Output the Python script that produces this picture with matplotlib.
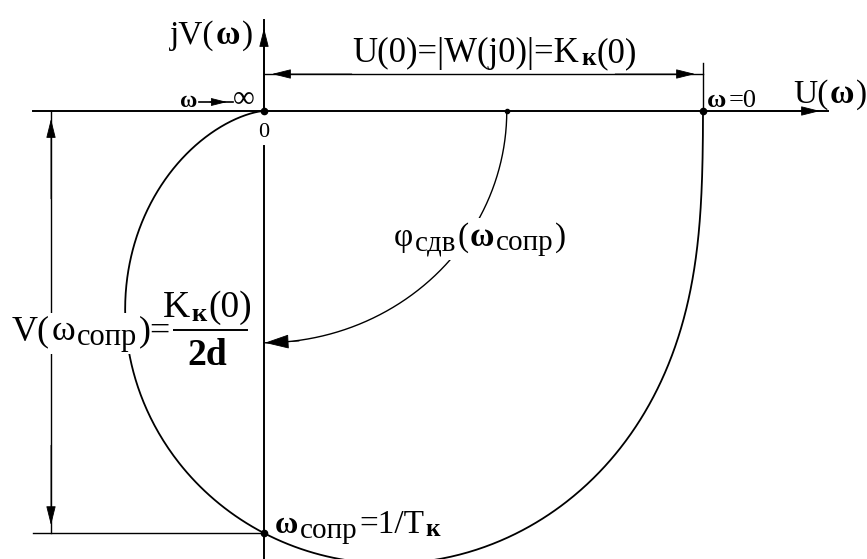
import numpy as np
import matplotlib
matplotlib.use("Agg")
import matplotlib.pyplot as plt
from matplotlib.patches import Rectangle
from matplotlib.transforms import Bbox

# параметры колебательного звена W(jw) = Kк / (1 - (w*Tк)^2 + j*2*d*w*Tк)
K_k = 1.0        # Kк(0)
d = 0.52         # коэффициент демпфирования
T_k = 1.0        # постоянная времени Tк
w_max = 60.0     # верхняя частота для годографа

# полуоси дуги угла сдвига фазы
phi_rx = 0.553
phi_ry = 0.528

plt.rcParams['font.family'] = ['Liberation Serif', 'DejaVu Serif']

S = 439.0            # пикселей на единицу
X0, Y0 = 264, 111    # начало координат на картинке


def px(x, y):
    # перевод из пикселей в координаты осей
    return (x - X0) / S, (Y0 - y) / S


def head(tip, tail, ms=12, hl=1.0, hw=0.25):
    # закрашенная стрелка, острие в tip
    ax.annotate('', xy=tip, xytext=tail,
                arrowprops=dict(arrowstyle=f'-|>,head_length={hl},head_width={hw}',
                                fc='k', ec='k', lw=0.6, mutation_scale=ms,
                                shrinkA=0, shrinkB=0))


def row(x, y, parts, ha='left', back=None, gap=1.5):
    # строка из кусков: (текст, кегль, начертание, сдвиг вниз в пикселях)
    objs = []
    for s, fs, fw, dy in parts:
        t = ax.text(0, 0, s, fontsize=fs, fontweight=fw, ha='left', va='baseline',
                    color='k', zorder=6)
        objs.append((t, dy))
    widths = [t.get_window_extent(renderer).width / S for t, _ in objs]
    g = gap / S
    total = sum(widths) + g * (len(widths) - 1)
    x0 = {'left': x, 'center': x - total / 2, 'right': x - total}[ha]
    for (t, dy), wd in zip(objs, widths):
        t.set_position((x0, y - dy / S))
        x0 += wd + g
    if back is not None:
        bb = Bbox.union([t.get_window_extent(renderer) for t, _ in objs])
        (ax0, ay0), (ax1, ay1) = ax.transData.inverted().transform(bb.get_points())
        p = back / S
        ax.add_patch(Rectangle((ax0 - p, ay0 - p), ax1 - ax0 + 2 * p, ay1 - ay0 + 2 * p,
                               fc='white', ec='none', zorder=5))


# годограф
w = np.concatenate([[0.0], np.geomspace(1e-3, w_max, 3000)])
W = K_k / (1 - (w * T_k) ** 2 + 2j * d * w * T_k)
U, V = W.real, W.imag
V_res = -K_k / (2 * d)          # V(w_сопр), w_сопр = 1/Tк

fig = plt.figure(figsize=(8.67, 5.59), dpi=100)
ax = fig.add_axes([0, 0, 1, 1])
ax.set_xlim(px(0, 0)[0], px(867, 0)[0])
ax.set_ylim(px(0, 559)[1], px(0, 0)[1])
ax.axis('off')
renderer = fig.canvas.get_renderer()

lw = 1.4
off = 8 / S     # отступ острия стрелок от выносных линий

# оси
x_left, x_right = px(33, 0)[0], px(828, 0)[0]
y_top = px(0, 20)[1]
ax.plot([x_left, x_right], [0, 0], 'k', lw=lw)
ax.plot([0, 0], [y_top, 0], 'k', lw=lw)
ax.plot([0, 0], [px(0, 146)[1], -1.1], 'k', lw=lw)
head((x_right - off, 0), (x_right - 0.2, 0))
head((0, y_top - off), (0, y_top - 0.2))

# размер U(0) = Kк(0)
y_dim = px(0, 74)[1]
ax.plot([K_k, K_k], [0, px(0, 63)[1]], 'k', lw=1.0)
ax.plot([0, K_k], [y_dim, y_dim], 'k', lw=1.0)
head((off, y_dim), (0.2, y_dim))
head((K_k - off, y_dim), (K_k - 0.2, y_dim))

# размер V(w_сопр)
x_dim = px(51, 0)[0]
ax.plot([x_left, 0], [V_res, V_res], 'k', lw=1.0)
ax.plot([x_dim, x_dim], [0, V_res], 'k', lw=1.0)
head((x_dim, -off), (x_dim, -0.2))
head((x_dim, V_res + off), (x_dim, V_res + 0.2))

# кривая
ax.plot(U, V, 'k', lw=1.3)

# дуга угла сдвига
t = np.linspace(0, np.pi / 2, 200)
ax.plot(phi_rx * np.cos(t), -phi_ry * np.sin(t), 'k', lw=1.0)
head((0.002, -phi_ry), (0.08, -phi_ry + 0.004), ms=13, hl=1.2, hw=0.35)

# точки
ax.plot([0, K_k, 0], [0, 0, V_res], 'ko', ms=4.5, zorder=4)
ax.plot([phi_rx], [0], 'ko', ms=3, zorder=4)

R, B = 'normal', 'bold'

row(*px(253, 44), [('jV(', 24, R, 0), ('ω', 24, B, 0), (')', 24, R, 0)], ha='right')
row(*px(793, 103), [('U(', 24, R, 0), ('ω', 24, B, 0), (')', 24, R, 0)])
row(*px(495, 62), [('U(0)=|W(j0)|=K', 25, R, 0), ('к', 18, B, 3), ('(0)', 25, R, 0)], ha='center')

row(*px(707, 107), [('ω', 19, B, 0), ('=0', 19, R, 0)], gap=2)

# w -> бесконечность
row(*px(180, 107), [('ω', 17, B, 0)])
ax.plot([px(199, 0)[0], px(233, 0)[0]], [px(0, 102)[1]] * 2, 'k', lw=1.2)
head(px(227, 102), px(210, 102), ms=10)
row(*px(233, 107), [('∞', 22, R, 0)])

row(*px(264, 137), [('0', 16, R, 0)], ha='center')

row(*px(480, 246), [('φ', 24, R, 0), ('сдв', 21, R, 4), ('(', 24, R, 0), ('ω', 24, B, 0),
                    ('сопр', 21, R, 4), (')', 24, R, 0)], ha='center', back=4)

row(*px(12, 340), [('V(', 26, R, 0), ('ω', 26, R, 0), ('сопр', 22, R, 5), (')=', 26, R, 0)], back=2)
row(*px(207, 317), [('K', 27, R, 0), ('к', 19, B, 4), ('(0)', 27, R, 0)], ha='center')
ax.plot([px(168, 0)[0], px(247, 0)[0]], [px(0, 330)[1]] * 2, 'k', lw=1.4)
row(*px(207, 365), [('2d', 27, B, 0)], ha='center')

row(*px(275, 533), [('ω', 23, B, 0), ('сопр', 21, R, 5), ('=1/T', 24, R, 0), ('к', 18, B, 3)])

fig.savefig('out.png', dpi=100, facecolor='white')
